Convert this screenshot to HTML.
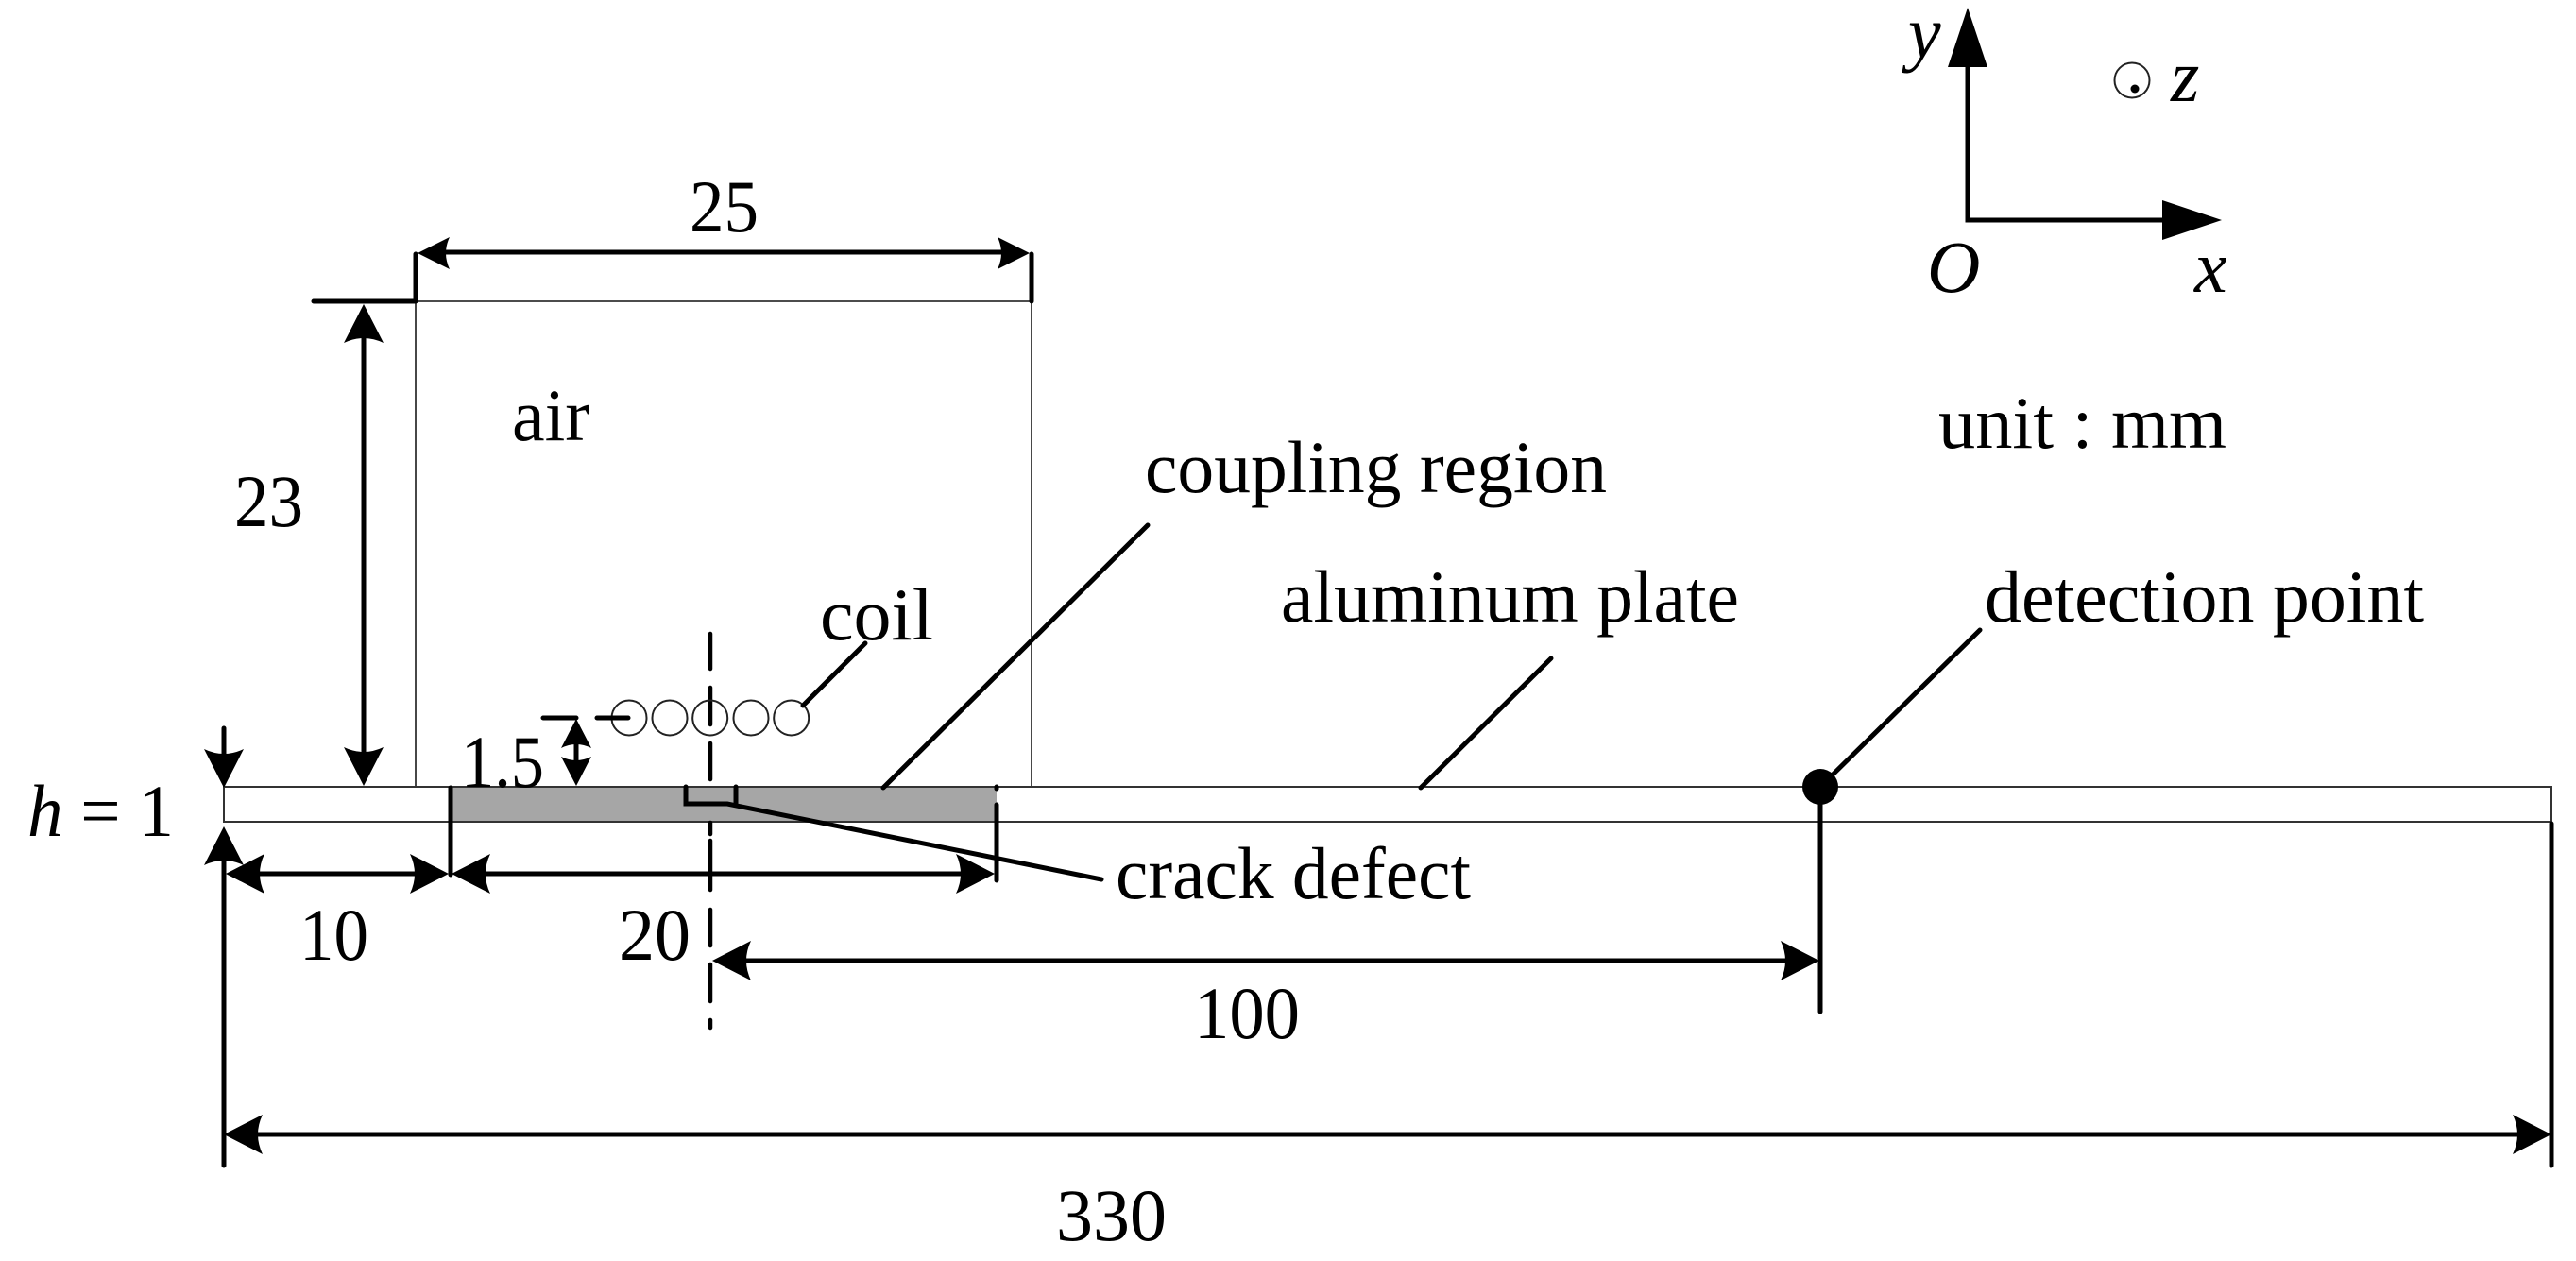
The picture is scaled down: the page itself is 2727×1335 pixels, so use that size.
<!DOCTYPE html>
<html><head><meta charset="utf-8"><style>
html,body{margin:0;padding:0;background:#fff}
svg{display:block}
text{font-family:"Liberation Serif",serif;font-size:78px;fill:#000}
.i{font-style:italic}
</style></head><body>
<svg width="2727" height="1335" viewBox="0 0 2727 1335" xmlns="http://www.w3.org/2000/svg">
<defs>
<path id="h" d="M0 0 L41 -21 Q31 0 41 21 Z" fill="#000"/>
<path id="s" d="M0 0 L31 -16 Q23 0 31 16 Z" fill="#000"/>
<path id="m" d="M0 0 L34 -17 Q26 0 34 17 Z" fill="#000"/>
</defs>
<rect width="2727" height="1335" fill="#fff"/>
<!-- air box -->
<path d="M440 833V319H1092V833" fill="none" stroke="#333" stroke-width="1.8"/>
<!-- plate -->
<rect x="237" y="833" width="2464" height="37" fill="#fff" stroke="#333" stroke-width="2"/>
<rect x="477" y="834" width="578" height="35" fill="#a6a6a6"/>
<!-- center dashed -->
<path d="M752 671V708M752 728V767M752 787V825M752 871V883M752 890V942M752 963V1001M752 1021V1060M752 1080V1088" stroke="#000" stroke-width="4.5" fill="none" stroke-linecap="round"/>
<!-- coil -->
<g fill="none" stroke="#222" stroke-width="2">
<circle cx="666" cy="760" r="18.5"/><circle cx="709" cy="760" r="18.5"/><circle cx="751.7" cy="760" r="18.5"/><circle cx="795" cy="760" r="18.5"/><circle cx="837.7" cy="760" r="18.5"/>
</g>
<g stroke="#000" stroke-width="5" fill="none" stroke-linecap="round" stroke-linejoin="miter">
<!-- dimension lines -->
<path d="M440 269V319M1092 269V319M332 319H440"/>
<path d="M460 267H1072"/>
<path d="M385 350V805"/>
<path d="M237 771V800"/>
<path d="M237 900V1234M2701 872V1234"/>
<path d="M260 925H455M498 925H1035"/>
<path d="M477 834V926M1055 852V932M1055 833V835"/>
<path d="M775 1017H1900M1927 850V1071"/>
<path d="M260 1201H2678"/>
<path d="M575 760H610M632 760H665"/>
<path d="M610 780V812"/>
<!-- leaders -->
<path d="M850 747L916 681M935 834L1215 556M1504 834L1642 697M1927 833L2096 667"/>
<path d="M726 833V851H770L1166 931M779 833V851"/>
<!-- axes -->
<path d="M2083 60V233H2300"/>
</g>
<!-- arrowheads -->
<use href="#m" transform="translate(442 268)"/>
<use href="#m" transform="translate(1090 268) rotate(180)"/>
<use href="#h" transform="translate(385 322) rotate(90)"/>
<use href="#h" transform="translate(385 832) rotate(-90)"/>
<use href="#h" transform="translate(237 834) rotate(-90)"/>
<use href="#h" transform="translate(237 875) rotate(90)"/>
<use href="#h" transform="translate(239 925)"/>
<use href="#h" transform="translate(475 925) rotate(180)"/>
<use href="#h" transform="translate(478 925)"/>
<use href="#h" transform="translate(1053 925) rotate(180)"/>
<use href="#h" transform="translate(754 1017)"/>
<use href="#h" transform="translate(1926 1017) rotate(180)"/>
<use href="#h" transform="translate(237 1201)"/>
<use href="#h" transform="translate(2701 1201) rotate(180)"/>
<use href="#s" transform="translate(610 761) rotate(90)"/>
<use href="#s" transform="translate(610 832) rotate(-90)"/>
<path d="M2083 8L2104 71H2062Z" fill="#000"/>
<path d="M2352 233L2289 212V254Z" fill="#000"/>
<circle cx="1927" cy="833" r="19" fill="#000"/>
<circle cx="2257" cy="85" r="18.5" fill="none" stroke="#222" stroke-width="2"/>
<circle cx="2260" cy="94" r="4.5" fill="#000"/>
<!-- labels -->
<text x="730" y="245" textLength="73" lengthAdjust="spacingAndGlyphs">25</text>
<text x="542" y="466">air</text>
<text x="248" y="557" textLength="73" lengthAdjust="spacingAndGlyphs">23</text>
<text x="868" y="677" textLength="120" lengthAdjust="spacingAndGlyphs">coil</text>
<text x="1212" y="521" textLength="489" lengthAdjust="spacingAndGlyphs">coupling region</text>
<text x="1356" y="658" textLength="485" lengthAdjust="spacingAndGlyphs">aluminum plate</text>
<text x="2101" y="658" textLength="465" lengthAdjust="spacingAndGlyphs">detection point</text>
<text x="2052" y="474" textLength="305" lengthAdjust="spacingAndGlyphs">unit : mm</text>
<text x="488" y="833" textLength="88" lengthAdjust="spacingAndGlyphs">1.5</text>
<text x="29" y="885" textLength="155" lengthAdjust="spacingAndGlyphs"><tspan class="i">h</tspan> = 1</text>
<text x="317" y="1016" textLength="73" lengthAdjust="spacingAndGlyphs">10</text>
<text x="655" y="1016" textLength="76" lengthAdjust="spacingAndGlyphs">20</text>
<text x="1264" y="1099" textLength="112" lengthAdjust="spacingAndGlyphs">100</text>
<text x="1118" y="1313">330</text>
<text x="1181" y="951" textLength="376" lengthAdjust="spacingAndGlyphs">crack defect</text>
<text class="i" x="2020" y="61">y</text>
<text class="i" x="2298" y="107">z</text>
<text class="i" x="2040" y="309">O</text>
<text class="i" x="2323" y="309">x</text>
</svg>
</body></html>
